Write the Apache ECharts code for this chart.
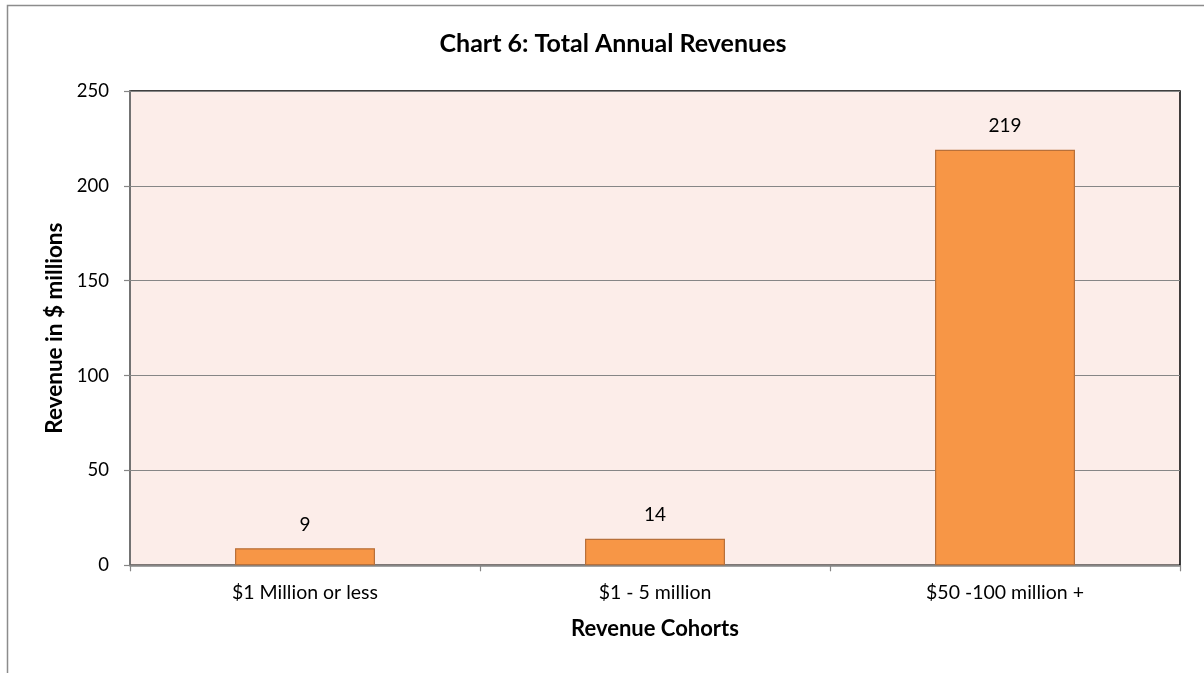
<!DOCTYPE html>
<html>
<head>
<meta charset="utf-8">
<style>
  html, body { margin: 0; padding: 0; background: #ffffff; }
  #chart { width: 1204px; height: 673px; }
</style>
<script src="https://cdn.jsdelivr.net/npm/echarts@6/dist/echarts.min.js"></script>
</head>
<body>
<div id="chart"></div>
<script>
// Revenue cohorts and their total annual revenue ($ millions)
const categories = ['$1 Million or less', '$1 - 5 million', '$50 -100 million +'];
const revenues = [9, 14, 219];

const FONT = 'Lato, "Open Sans", sans-serif';

const chart = echarts.init(document.getElementById('chart'), null, { renderer: 'canvas' });

chart.setOption({
  backgroundColor: '#ffffff',
  animation: false,
  title: {
    text: 'Chart 6: Total Annual Revenues',
    left: 608,
    top: 26,
    textAlign: 'center',
    textStyle: { fontFamily: FONT, fontSize: 25, fontWeight: 'bold', color: '#000000' }
  },
  graphic: [
    {
      // outer chart frame
      type: 'rect',
      shape: { x: 7.5, y: 5.5, width: 1210, height: 680 },
      style: { fill: 'none', stroke: '#8c8c8c', lineWidth: 1.5 },
      silent: true
    },
    {
      // plot area frame (top and right edges visible)
      type: 'rect',
      shape: { x: 130, y: 91, width: 1050, height: 474.3 },
      style: { fill: 'none', stroke: '#000000', lineWidth: 1.5 },
      silent: true,
      z: 0
    }
  ],
  grid: {
    left: 130,
    top: 91,
    width: 1050,
    height: 474.3,
    show: true,
    backgroundColor: '#FCEDE9',
    borderWidth: 0
  },
  xAxis: {
    type: 'category',
    data: categories,
    name: 'Revenue Cohorts',
    nameLocation: 'middle',
    nameGap: 53,
    nameTextStyle: { fontFamily: FONT, fontSize: 22, fontWeight: 'bold', color: '#000000' },
    axisLine: { show: true, lineStyle: { color: '#868686', width: 1.5 } },
    axisTick: { show: true, length: 6, alignWithLabel: false, lineStyle: { color: '#868686', width: 1.2 } },
    axisLabel: { fontFamily: FONT, fontSize: 19.5, color: '#000000', margin: 17 },
    splitLine: { show: false }
  },
  yAxis: {
    type: 'value',
    min: 0,
    max: 250,
    interval: 50,
    name: 'Revenue in $ millions',
    nameLocation: 'middle',
    nameGap: 63,
    nameRotate: 90,
    nameTextStyle: { fontFamily: FONT, fontSize: 22.5, fontWeight: 'bold', color: '#000000' },
    axisLine: { show: true, lineStyle: { color: '#868686', width: 1.5 } },
    axisTick: { show: true, length: 6, lineStyle: { color: '#868686', width: 1.2 } },
    axisLabel: { fontFamily: FONT, fontSize: 18.5, color: '#000000', margin: 21 },
    splitLine: { show: true, lineStyle: { color: '#868686', width: 1.2 } }
  },
  series: [
    {
      type: 'bar',
      data: revenues,
      barWidth: '40%',
      itemStyle: { color: '#F79646', borderColor: '#B8703A', borderWidth: 1.2 },
      label: {
        show: true,
        position: 'top',
        distance: 14,
        fontFamily: FONT,
        fontSize: 19,
        color: '#000000'
      }
    }
  ]
});
</script>
</body>
</html>
